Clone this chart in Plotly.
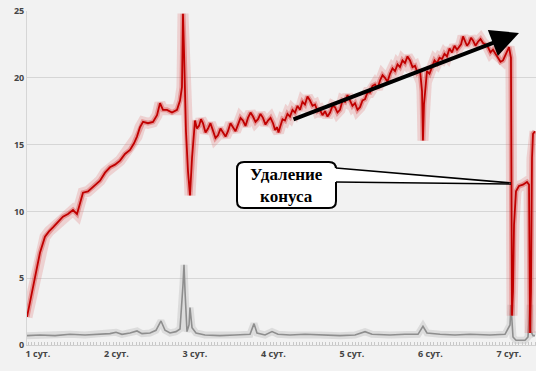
import plotly.graph_objects as go

# ---- data (x in days) ----
red_x = [0.860, 0.898, 0.936, 0.987, 1.025, 1.089, 1.140, 1.191, 1.255, 1.318, 1.382, 1.446, 1.497,
         1.535, 1.573, 1.637, 1.701, 1.752, 1.790, 1.854, 1.917, 1.981, 2.045, 2.108, 2.172, 2.223,
         2.261, 2.299, 2.338, 2.401, 2.465, 2.516, 2.554, 2.592, 2.643, 2.707, 2.771, 2.809, 2.834,
         2.847, 2.860, 2.885, 2.911, 2.936, 2.962, 3.000, 3.025, 3.051, 3.076, 3.102, 3.134, 3.166,
         3.197, 3.229, 3.261, 3.293, 3.325, 3.357, 3.389, 3.420, 3.452, 3.484, 3.516, 3.548, 3.580,
         3.611, 3.643, 3.675, 3.707, 3.739, 3.771, 3.803, 3.834, 3.866, 3.898, 3.930, 3.962, 3.994,
         4.020, 4.045, 4.064, 4.083, 4.115, 4.146, 4.178, 4.210, 4.242, 4.274, 4.306, 4.338, 4.369,
         4.401, 4.433, 4.465, 4.497, 4.529, 4.561, 4.592, 4.624, 4.656, 4.688, 4.720, 4.752, 4.783,
         4.815, 4.847, 4.879, 4.911, 4.943, 4.975, 5.006, 5.038, 5.070, 5.102, 5.134, 5.166, 5.197,
         5.229, 5.261, 5.293, 5.325, 5.357, 5.389, 5.420, 5.452, 5.484, 5.516, 5.548, 5.580, 5.611,
         5.643, 5.675, 5.707, 5.739, 5.771, 5.803, 5.834, 5.866, 5.892, 5.904, 5.917, 5.955, 5.987,
         6.019, 6.051, 6.083, 6.115, 6.146, 6.178, 6.210, 6.242, 6.274, 6.306, 6.338, 6.389, 6.414,
         6.439, 6.465, 6.490, 6.516, 6.541, 6.573, 6.605, 6.637, 6.669, 6.701, 6.732, 6.764, 6.796,
         6.828, 6.860, 6.892, 6.924, 6.962, 7.000, 7.025, 7.038, 7.051, 7.064, 7.089, 7.127, 7.178,
         7.229, 7.255, 7.268, 7.280, 7.293, 7.306, 7.331]
red_y = [2.1, 3.2, 4.3, 6.0, 6.9, 8.1, 8.5, 8.8, 9.2, 9.6, 9.8, 10.1, 9.8,
         10.6, 11.4, 11.5, 11.8, 12.1, 12.3, 12.9, 13.3, 13.5, 13.8, 14.3, 14.6, 15.1,
         15.6, 16.3, 16.7, 16.6, 16.7, 17.2, 18.1, 17.6, 17.6, 17.4, 17.6, 18.3, 19.3,
         24.8, 22.0, 16.0, 13.0, 11.2, 14.0, 16.8, 16.2, 16.4, 16.9, 16.6, 15.9, 16.2,
         16.6, 16.1, 15.5, 15.7, 16.2, 15.9, 15.6, 16.0, 16.6, 16.3, 16.0, 16.5, 17.0,
         16.8, 16.4, 17.0, 17.4, 17.1, 16.7, 16.9, 17.3, 17.0, 16.5, 16.8, 17.0, 16.6,
         16.1, 16.3, 15.9, 16.3, 16.9, 16.8, 17.3, 17.1, 17.6, 17.4, 17.9, 17.6, 18.2,
         18.0, 18.6, 18.3, 17.9, 18.0, 17.5, 17.6, 17.2, 17.5, 17.1, 17.4, 17.9, 17.8,
         17.4, 17.6, 18.3, 18.2, 18.7, 18.3, 17.9, 18.1, 17.6, 17.8, 18.3, 18.4, 18.9,
         18.9, 19.4, 19.5, 19.2, 19.8, 20.2, 20.0, 19.7, 20.3, 20.7, 20.5, 21.0, 20.8,
         21.3, 21.1, 21.6, 21.3, 20.8, 20.9, 20.4, 20.6, 19.0, 15.3, 18.0, 20.5, 20.3,
         20.8, 21.3, 21.1, 21.5, 21.4, 21.8, 21.6, 22.2, 21.9, 22.4, 22.1, 22.5, 23.1,
         22.8, 22.4, 22.6, 23.0, 22.8, 22.4, 22.7, 22.9, 22.6, 22.5, 22.3, 21.9, 22.1,
         21.8, 21.6, 21.2, 21.3, 21.8, 22.3, 21.5, 2.2, 4.0, 9.0, 11.5, 11.9, 12.0,
         12.2, 12.0, 0.9, 4.0, 14.0, 15.8, 16.0]

grey_x = [0.860, 1.025, 1.217, 1.408, 1.599, 1.790, 1.917, 1.994, 2.070, 2.172, 2.261, 2.325, 2.427,
          2.503, 2.567, 2.618, 2.682, 2.758, 2.809, 2.847, 2.860, 2.873, 2.898, 2.924, 2.936, 2.962,
          3.013, 3.127, 3.318, 3.510, 3.701, 3.752, 3.790, 3.892, 3.981, 4.057, 4.210, 4.401, 4.592,
          4.847, 5.038, 5.166, 5.255, 5.484, 5.675, 5.841, 5.904, 5.955, 6.121, 6.312, 6.503, 6.758,
          6.949, 7.013, 7.025, 7.051, 7.089, 7.204, 7.242, 7.268, 7.280, 7.306, 7.331]
grey_y = [0.7, 0.75, 0.7, 0.8, 0.75, 0.8, 0.85, 0.95, 0.8, 0.9, 1.05, 0.85, 0.9,
          1.1, 1.8, 1.1, 0.9, 1.0, 1.2, 4.5, 6.0, 4.0, 1.0, 1.5, 2.8, 1.3,
          0.9, 0.75, 0.7, 0.75, 0.8, 1.6, 0.9, 0.75, 1.0, 0.8, 0.75, 0.8, 0.75,
          0.7, 0.75, 1.0, 0.8, 0.75, 0.8, 0.8, 1.4, 0.9, 0.8, 0.75, 0.8, 0.75,
          0.8, 1.5, 3.0, 0.6, 0.35, 0.35, 0.6, 3.0, 1.0, 0.7, 0.7]

tick_vals = [1, 2, 3, 4, 5, 6, 7]
tick_text = ["1 сут.", "2 сут.", "3 сут.", "4 сут.", "5 сут.", "6 сут.", "7 сут."]
y_ticks = [0, 5, 10, 15, 20, 25]

# ---- pixel helpers for overlays (layout positioning only) ----
def px2x(px):
    return 1 + (px - 38) / 78.5

def py2y(py):
    return (345 - py) / 13.36

fig = go.Figure()
# grey halo + line
fig.add_trace(go.Scatter(x=grey_x, y=grey_y, mode="lines",
                         line=dict(color="rgba(170,170,170,0.3)", width=7), hoverinfo="skip"))
fig.add_trace(go.Scatter(x=grey_x, y=grey_y, mode="lines",
                         line=dict(color="#8e8e8e", width=1.6)))
# red halo + line
fig.add_trace(go.Scatter(x=red_x, y=red_y, mode="lines",
                         line=dict(color="rgba(225,110,110,0.25)", width=11), hoverinfo="skip"))
fig.add_trace(go.Scatter(x=red_x, y=red_y, mode="lines",
                         line=dict(color="rgba(215,40,40,0.35)", width=5), hoverinfo="skip"))
fig.add_trace(go.Scatter(x=red_x, y=red_y, mode="lines",
                         line=dict(color="#c00000", width=1.8)))

shapes = []
# rounded callout box
x0, x1, y0, y1, r = 237, 336, 162, 208, 7
pts = [("M", x0 + r, y0), ("L", x1 - r, y0), ("Q", x1, y0, x1, y0 + r), ("L", x1, y1 - r),
       ("Q", x1, y1, x1 - r, y1), ("L", x0 + r, y1), ("Q", x0, y1, x0, y1 - r), ("L", x0, y0 + r),
       ("Q", x0, y0, x0 + r, y0)]
path = ""
for p in pts:
    if p[0] == "Q":
        path += f"Q{px2x(p[1])},{py2y(p[2])} {px2x(p[3])},{py2y(p[4])} "
    else:
        path += f"{p[0]}{px2x(p[1])},{py2y(p[2])} "
path += "Z"
shapes.append(dict(type="path", path=path, xref="x", yref="y", fillcolor="white",
                   line=dict(color="black", width=2)))
# pointer wedge fill
wedge = f"M{px2x(334)},{py2y(168)} L{px2x(511)},{py2y(183)} L{px2x(334)},{py2y(182)} Z"
shapes.append(dict(type="path", path=wedge, xref="x", yref="y", fillcolor="white",
                   line=dict(width=0)))
shapes.append(dict(type="line", x0=px2x(336), y0=py2y(168), x1=px2x(511), y1=py2y(183),
                   xref="x", yref="y", line=dict(color="black", width=1.6)))
shapes.append(dict(type="line", x0=px2x(336), y0=py2y(182), x1=px2x(511), y1=py2y(184),
                   xref="x", yref="y", line=dict(color="black", width=1.6)))

fig.update_layout(
    width=536, height=371,
    margin=dict(l=27, r=0, t=11, b=26),
    paper_bgcolor="#f2f2f2", plot_bgcolor="#f2f2f2",
    showlegend=False,
    shapes=shapes,
    xaxis=dict(range=[px2x(27), px2x(536)], tickvals=tick_vals, ticktext=tick_text,
               showgrid=False, zeroline=False, showline=True, linecolor="#d0d0d0",
               ticks="", tickfont=dict(family="Open Sans", size=9, color="#444444", weight="bold"),
               minor=dict(ticks="inside", dtick=1 / 24, ticklen=3, tickcolor="#c8c8c8", showgrid=False)),
    yaxis=dict(range=[0, 25], tickvals=y_ticks, showgrid=True, gridcolor="#d6d6d6", gridwidth=1,
               zeroline=False, showline=True, linecolor="#d6d6d6", ticks="",
               tickfont=dict(family="Open Sans", size=9, color="#444444", weight="bold")),
)

fig.add_annotation(x=px2x(519), y=py2y(33), ax=px2x(292), ay=py2y(120), xref="x", yref="y",
                   axref="x", ayref="y", showarrow=True, arrowhead=2, arrowsize=1.4,
                   arrowwidth=4, arrowcolor="black", text="")
fig.add_annotation(x=px2x(286.5), y=py2y(185), xref="x", yref="y", showarrow=False,
                   text="<b>Удаление<br>конуса</b>",
                   font=dict(family="Liberation Serif, Times New Roman, serif", size=17, color="black"))

fig.write_html("out.html", config={"displayModeBar": False},
               post_script="document.body.style.margin='0';document.body.style.background='#f2f2f2';")
